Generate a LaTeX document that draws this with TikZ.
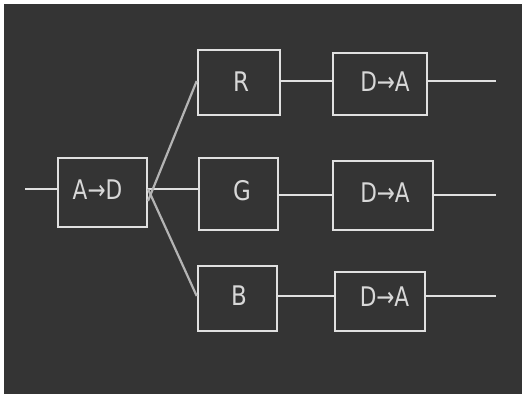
\documentclass[tikz,border=0pt]{standalone}
\usepackage{fontspec}
\setmainfont{DejaVu Sans}
\definecolor{screen}{HTML}{343434}
\definecolor{trace}{HTML}{E0E0E0}
\definecolor{faint}{HTML}{B4B4B4}
\definecolor{glyph}{HTML}{D8D8D8}
\begin{document}
\begin{tikzpicture}[x=1pt,y=-1pt,
  wire/.style={draw=trace,line width=2.6pt},
  fan/.style={draw=faint,line width=2.2pt},
  blk/.style={draw=trace,line width=2.6pt,rectangle,inner sep=0pt},
  txt/.style={text=glyph,inner sep=0pt,font=\fontsize{27}{27}\selectfont},
]
% screen area
\fill[white] (0,0) rectangle (524,396);
\fill[screen] (4,4) rectangle (522,394);
\useasboundingbox (0,0) rectangle (524,396);

% converter and channel blocks
\node[blk,minimum width=89pt,minimum height=69pt] (ad) at (102.5,192.5) {};
\node[blk,minimum width=82pt,minimum height=65pt] (r) at (239,82.5) {};
\node[blk,minimum width=79pt,minimum height=72pt] (g) at (238.5,194) {};
\node[blk,minimum width=79pt,minimum height=65pt] (b) at (237.5,298.5) {};
\node[blk,minimum width=94pt,minimum height=62pt] (da1) at (380,84) {};
\node[blk,minimum width=100pt,minimum height=69pt] (da2) at (383,195.5) {};
\node[blk,minimum width=90pt,minimum height=59pt] (da3) at (380,301.5) {};

% block captions
\node[txt] (tad) at (97.5,190) {\scalebox{0.8}[1]{A→D}};
\node[txt] (tr) at (241,82) {\scalebox{0.85}[1]{R}};
\node[txt] (tg) at (242,191) {\scalebox{0.85}[1]{G}};
\node[txt] (tb) at (239,296) {\scalebox{0.85}[1]{B}};
\node[txt] (tda1) at (385,82) {\scalebox{0.8}[1]{D→A}};
\node[txt] (tda2) at (385,193) {\scalebox{0.8}[1]{D→A}};
\node[txt] (tda3) at (384.5,297) {\scalebox{0.8}[1]{D→A}};

% free ends
\coordinate (in) at (25,189);
\coordinate (out1) at (496,81);
\coordinate (out2) at (496,195);
\coordinate (out3) at (496,296);
\coordinate (split) at (148,189);

% input and fan-out
\draw[wire] (in) -- (in -| ad.west);
\draw[wire] (split) -- (split -| g.west);
\draw[fan] ([yshift=-12pt]split) -- (out1 -| r.west);
\draw[fan] (split) -- (out3 -| b.west);

% channel outputs
\draw[wire] (out1 -| r.east) -- (out1 -| da1.west);
\draw[wire] (out2 -| g.east) -- (out2 -| da2.west);
\draw[wire] (out3 -| b.east) -- (out3 -| da3.west);
\draw[wire] (out1 -| da1.east) -- (out1);
\draw[wire] (out2 -| da2.east) -- (out2);
\draw[wire] (out3 -| da3.east) -- (out3);
\end{tikzpicture}
\end{document}
